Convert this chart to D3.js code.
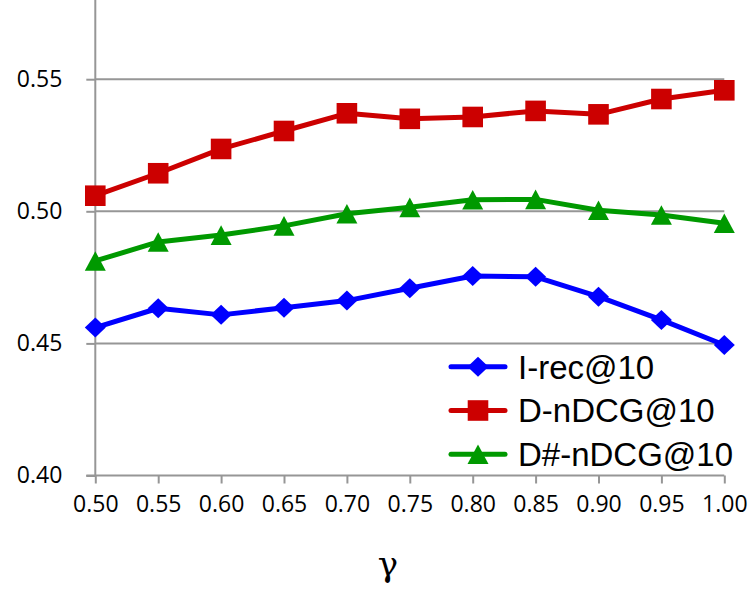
<!DOCTYPE html>
<html>
<head>
<meta charset="utf-8">
<script src="https://cdn.jsdelivr.net/npm/d3@7"></script>
<style>
  body { margin: 0; background: #fff; }
  svg { display: block; }
</style>
</head>
<body>
<svg id="chart" width="748" height="591"></svg>
<script>
const gammas = [0.50, 0.55, 0.60, 0.65, 0.70, 0.75, 0.80, 0.85, 0.90, 0.95, 1.00];
const irec = [0.4560, 0.4633, 0.4608, 0.4635, 0.4662, 0.4709, 0.4755, 0.4752, 0.4677, 0.4589, 0.4494];
const dndcg = [0.5059, 0.5144, 0.5236, 0.5304, 0.5371, 0.5350, 0.5357, 0.5380, 0.5367, 0.5425, 0.5458];
const dsharp = [0.4812, 0.4884, 0.4910, 0.4945, 0.4991, 0.5015, 0.5044, 0.5045, 0.5004, 0.4986, 0.4955];
const yTicks = [0.40, 0.45, 0.50, 0.55];
const seriesNames = ['I-rec@10', 'D-nDCG@10', 'D#-nDCG@10'];

const svg = d3.select('#chart');

const x = d3.scaleLinear().domain([0.5, 1.0]).range([95.3, 724.3]);
const y = d3.scaleLinear().domain([0.40, 0.60]).range([475.5, -52.9]);

const gridColor = '#969696';

// excel-like marker shapes, centred on their bounding box
const diamond = {
  draw(ctx, size) {
    const w = 10.5, h = 10;
    ctx.moveTo(0, -h); ctx.lineTo(w, 0); ctx.lineTo(0, h); ctx.lineTo(-w, 0); ctx.closePath();
  }
};
const square = {
  draw(ctx, size) {
    const r = 10.3;
    ctx.rect(-r, -r, 2 * r, 2 * r);
  }
};
const triangle = {
  draw(ctx, size) {
    const w = 10.5, h = 9.8;
    ctx.moveTo(0, -h); ctx.lineTo(w, h); ctx.lineTo(-w, h); ctx.closePath();
  }
};

// gridlines
svg.append('g')
  .selectAll('line')
  .data(yTicks.slice(1))
  .join('line')
  .attr('x1', x(0.5)).attr('x2', x(1.0))
  .attr('y1', d => y(d)).attr('y2', d => y(d))
  .attr('stroke', gridColor).attr('stroke-width', 2);

// y axis
const yAxis = d3.axisLeft(y)
  .tickValues(yTicks)
  .tickFormat(d3.format('.2f'))
  .tickSize(9)
  .tickPadding(24);

const gy = svg.append('g')
  .attr('transform', `translate(${x(0.5)},0)`)
  .call(yAxis);
gy.select('.domain').remove();
gy.append('line')
  .attr('x1', 0).attr('x2', 0)
  .attr('y1', 0).attr('y2', y(0.40))
  .attr('stroke', gridColor).attr('stroke-width', 2);

// x axis
const xAxis = d3.axisBottom(x)
  .tickValues(gammas)
  .tickFormat(d3.format('.2f'))
  .tickSize(8)
  .tickPadding(12);

const gx = svg.append('g')
  .attr('transform', `translate(0,${y(0.40)})`)
  .call(xAxis);
gx.select('.domain')
  .attr('d', `M${x(0.5) - 9},0H${x(1.0)}`)
  .attr('stroke', gridColor).attr('stroke-width', 2);

svg.selectAll('.tick line').attr('stroke', gridColor).attr('stroke-width', 2);
svg.selectAll('.tick text')
  .attr('font-family', '"Open Sans", sans-serif')
  .attr('font-size', 23)
  .attr('fill', '#000');
gx.selectAll('.tick text').attr('dy', '0.71em');

// axis title
svg.append('text')
  .attr('x', 388).attr('y', 576)
  .attr('text-anchor', 'middle')
  .attr('font-family', '"DejaVu Serif", serif')
  .attr('font-size', 34)
  .text('γ');

const series = [
  { name: seriesNames[0], values: irec, color: '#0000ff', shape: diamond },
  { name: seriesNames[1], values: dndcg, color: '#cc0000', shape: square },
  { name: seriesNames[2], values: dsharp, color: '#009900', shape: triangle }
];

const line = d3.line()
  .x((d, i) => x(gammas[i]))
  .y(d => y(d));

// green first, then red, blue on top
[2, 1, 0].forEach(k => {
  const s = series[k];
  const g = svg.append('g');
  g.append('path')
    .attr('d', line(s.values))
    .attr('fill', 'none')
    .attr('stroke', s.color)
    .attr('stroke-width', 5)
    .attr('stroke-linejoin', 'round');
  g.selectAll('path.m')
    .data(s.values)
    .join('path')
    .attr('class', 'm')
    .attr('transform', (d, i) => `translate(${x(gammas[i])},${y(d)})`)
    .attr('d', d3.symbol().type(s.shape))
    .attr('fill', s.color);
});

// legend
const legend = svg.append('g');
series.forEach((s, i) => {
  const ly = 366.7 + i * 43.8;
  legend.append('line')
    .attr('x1', 451).attr('x2', 505)
    .attr('y1', ly).attr('y2', ly)
    .attr('stroke', s.color).attr('stroke-width', 5)
    .attr('stroke-linecap', 'round');
  legend.append('path')
    .attr('transform', `translate(478,${ly})`)
    .attr('d', d3.symbol().type(s.shape))
    .attr('fill', s.color);
  legend.append('text')
    .attr('x', 518).attr('y', ly)
    .attr('dy', '0.36em')
    .attr('font-family', '"Liberation Sans", Arial, sans-serif')
    .attr('font-size', 33)
    .attr('fill', '#000')
    .text(s.name);
});
</script>
</body>
</html>
